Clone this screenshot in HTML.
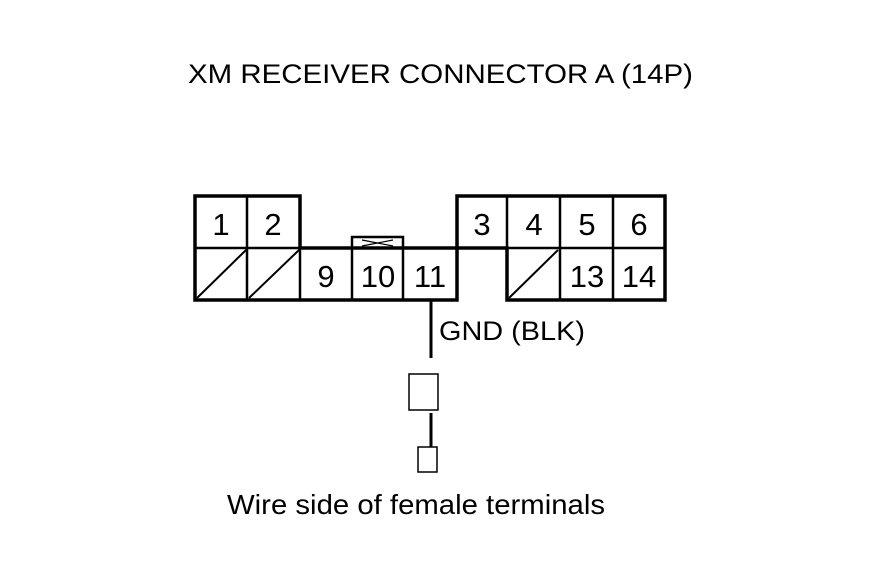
<!DOCTYPE html>
<html><head><style>body{margin:0;background:#fff}svg{display:block}</style></head>
<body>
<svg width="880" height="580" viewBox="0 0 880 580" xmlns="http://www.w3.org/2000/svg" font-family="Liberation Sans, sans-serif" fill="#000">
<rect width="880" height="580" fill="#fff"/>
<text x="188" y="83" font-size="27" textLength="505" lengthAdjust="spacingAndGlyphs">XM RECEIVER CONNECTOR A (14P)</text>
<g fill="none" stroke="#000">
<!-- outer outline -->
<path stroke-width="3.5" d="M195,196 H300 V248 H457 V196 H665 V300 H507 V248 H457 V300 H195 Z"/>
<!-- bump above 10 -->
<rect x="352" y="237" width="51" height="11" stroke-width="2.5"/>
<path stroke-width="1.2" d="M362,240 L393,246 M362,246 L393,240"/>
<!-- inner lines -->
<g stroke-width="2.5">
<line x1="195" y1="248" x2="300" y2="248"/>
<line x1="247" y1="196" x2="247" y2="300"/>
<line x1="300" y1="248" x2="300" y2="300"/>
<line x1="352" y1="248" x2="352" y2="300"/>
<line x1="403" y1="248" x2="403" y2="300"/>
<line x1="457" y1="248" x2="507" y2="248"/>
<line x1="507" y1="248" x2="665" y2="248"/>
<line x1="507" y1="196" x2="507" y2="300"/>
<line x1="560" y1="196" x2="560" y2="300"/>
<line x1="613" y1="196" x2="613" y2="300"/>
</g>
<g stroke-width="2">
<line x1="197" y1="298" x2="246" y2="250"/>
<line x1="249" y1="298" x2="299" y2="250"/>
<line x1="509" y1="298" x2="558" y2="250"/>
</g>
<!-- wire -->
<line x1="431" y1="300" x2="431" y2="358" stroke-width="3"/>
<rect x="409" y="374" width="29" height="36" stroke-width="1.5"/>
<line x1="431" y1="413" x2="431" y2="447" stroke-width="3"/>
<rect x="418" y="447" width="19" height="25" stroke-width="1.5"/>
</g>
<g font-size="31" text-anchor="middle">
<text x="221" y="235">1</text>
<text x="273" y="235">2</text>
<text x="482" y="235">3</text>
<text x="534" y="235">4</text>
<text x="587" y="235">5</text>
<text x="639" y="235">6</text>
<text x="326" y="287">9</text>
<text x="378" y="287">10</text>
<text x="430" y="287">11</text>
<text x="587" y="287">13</text>
<text x="639" y="287">14</text>
</g>
<text x="439" y="340" font-size="27" textLength="146" lengthAdjust="spacingAndGlyphs">GND (BLK)</text>
<text x="227" y="514" font-size="28" textLength="378" lengthAdjust="spacingAndGlyphs">Wire side of female terminals</text>
</svg>
</body></html>
